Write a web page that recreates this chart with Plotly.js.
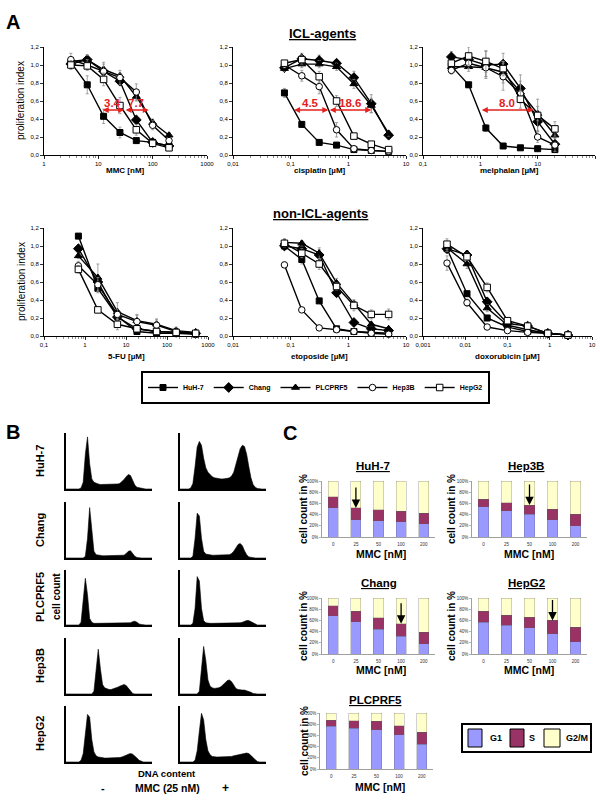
<!DOCTYPE html>
<html><head><meta charset="utf-8">
<script src="https://cdn.plot.ly/plotly-3.0.1.min.js"></script>
<style>html,body{margin:0;padding:0;background:#fff}#chart{width:600px;height:800px}</style>
</head><body><div id="chart"></div>
<script>
// ---------------- DATA ----------------
const cellLines = ['HuH-7', 'Chang', 'PLCPRF5', 'Hep3B', 'HepG2'];
const propTicks = [0, 0.2, 0.4, 0.6, 0.8, 1.0, 1.2];
const propTickText = ['0,0', '0,2', '0,4', '0,6', '0,8', '1,0', '1,2'];

// Panel A – ICL agents
const mmcDose = [3.125, 6.25, 12.5, 25, 50, 100, 200];
const mmcValues = [
  [1.03, 0.78, 0.43, 0.25, 0.16, 0.14, 0.10],
  [1.01, 1.06, 0.93, 0.82, 0.39, 0.14, 0.10],
  [1.04, 1.06, 0.95, 0.88, 0.65, 0.36, 0.22],
  [1.06, 1.00, 0.93, 0.86, 0.70, 0.33, 0.16],
  [1.00, 0.99, 0.84, 0.55, 0.28, 0.13, 0.08]];
const mmcError = [
  [0.05, 0.10, 0.08, 0.06, 0.03, 0.02, 0.02],
  [0.04, 0.05, 0.05, 0.03, 0.04, 0.02, 0.02],
  [0.03, 0.05, 0.06, 0.03, 0.05, 0.04, 0.03],
  [0.07, 0.06, 0.10, 0.08, 0.09, 0.05, 0.03],
  [0.05, 0.04, 0.07, 0.09, 0.06, 0.03, 0.02]];
const mmcTicks = [1, 10, 100, 1000];
const mmcTickText = ['1', '10', '100', '1000'];
const mmcIC50 = [11.3, 29.8, 84.7];
const mmcFold = ['3.4', '7.7'];

const cisDose = [0.078, 0.156, 0.3125, 0.625, 1.25, 2.5, 5];
const cisValues = [
  [0.69, 0.34, 0.14, 0.11, 0.06, 0.05, 0.04],
  [0.97, 1.07, 1.05, 1.02, 0.86, 0.57, 0.22],
  [0.96, 1.01, 1.01, 0.98, 0.79, 0.55, 0.24],
  [1.00, 0.88, 0.76, 0.28, 0.07, 0.05, 0.04],
  [1.02, 1.06, 0.87, 0.60, 0.21, 0.12, 0.06]];
const cisError = [
  [0.05, 0.03, 0.02, 0.02, 0.01, 0.01, 0.01],
  [0.03, 0.06, 0.06, 0.04, 0.07, 0.10, 0.04],
  [0.03, 0.04, 0.04, 0.04, 0.05, 0.08, 0.03],
  [0.03, 0.06, 0.08, 0.08, 0.03, 0.02, 0.01],
  [0.03, 0.05, 0.06, 0.06, 0.03, 0.02, 0.02]];
const cisTicks = [0.01, 0.1, 1, 10];
const cisTickText = ['0,01', '0,1', '1', '10'];
const cisIC50 = [0.108, 0.45, 2.5];
const cisFold = ['4.5', '18.6'];

const melDose = [0.3125, 0.625, 1.25, 2.5, 5, 10, 20];
const melValues = [
  [0.99, 0.78, 0.30, 0.10, 0.08, 0.07, 0.06],
  [1.09, 1.06, 1.00, 1.01, 0.74, 0.37, 0.12],
  [0.98, 0.98, 0.97, 0.92, 0.70, 0.46, 0.22],
  [0.94, 1.02, 0.97, 0.87, 0.68, 0.20, 0.11],
  [1.02, 1.10, 1.04, 0.96, 0.62, 0.44, 0.29]];
const melError = [
  [0.04, 0.03, 0.04, 0.02, 0.02, 0.01, 0.01],
  [0.06, 0.08, 0.15, 0.12, 0.15, 0.10, 0.08],
  [0.03, 0.05, 0.10, 0.12, 0.12, 0.08, 0.04],
  [0.04, 0.06, 0.10, 0.15, 0.10, 0.06, 0.03],
  [0.03, 0.10, 0.12, 0.08, 0.10, 0.18, 0.08]];
const melTicks = [0.1, 1, 10, 100];
const melTickText = ['0,1', '1', '10', '100'];
const melIC50 = [1.0, 8.5];
const melFold = ['8.0'];

// Panel A – non-ICL agents
const fuDose = [0.69, 2.06, 6.17, 18.5, 55.6, 167, 500];
const fuValues = [
  [1.11, 0.53, 0.22, 0.05, 0.03, 0.03, 0.02],
  [0.97, 0.60, 0.21, 0.08, 0.05, 0.04, 0.03],
  [0.89, 0.65, 0.27, 0.17, 0.13, 0.06, 0.04],
  [0.78, 0.57, 0.24, 0.16, 0.12, 0.05, 0.03],
  [0.74, 0.29, 0.13, 0.08, 0.05, 0.04, 0.03]];
const fuError = [
  [0.02, 0.05, 0.03, 0.02, 0.01, 0.01, 0.01],
  [0.03, 0.05, 0.04, 0.02, 0.02, 0.01, 0.01],
  [0.03, 0.15, 0.10, 0.06, 0.05, 0.04, 0.03],
  [0.05, 0.08, 0.06, 0.08, 0.07, 0.04, 0.03],
  [0.04, 0.02, 0.06, 0.03, 0.02, 0.02, 0.02]];
const fuTicks = [0.1, 1, 10, 100, 1000];
const fuTickText = ['0,1', '1', '10', '100', '1000'];

const etoDose = [0.078, 0.156, 0.3125, 0.625, 1.25, 2.5, 5];
const etoValues = [
  [1.00, 0.85, 0.39, 0.08, 0.05, 0.04, 0.03],
  [1.00, 0.97, 0.90, 0.48, 0.15, 0.08, 0.06],
  [1.04, 1.03, 0.92, 0.59, 0.36, 0.13, 0.08],
  [0.79, 0.29, 0.09, 0.07, 0.05, 0.03, 0.02],
  [1.03, 0.92, 0.80, 0.55, 0.34, 0.24, 0.24]];
const etoError = [
  [0.02, 0.05, 0.02, 0.01, 0.01, 0.01, 0.01],
  [0.03, 0.03, 0.06, 0.04, 0.02, 0.02, 0.01],
  [0.04, 0.03, 0.06, 0.05, 0.04, 0.02, 0.02],
  [0.03, 0.02, 0.01, 0.01, 0.01, 0.01, 0.01],
  [0.04, 0.05, 0.06, 0.04, 0.06, 0.05, 0.06]];
const etoTicks = [0.01, 0.1, 1, 10];
const etoTickText = ['0,01', '0,1', '1', '10'];

const doxDose = [0.0037, 0.011, 0.033, 0.1, 0.3, 0.9, 2.7];
const doxValues = [
  [0.97, 0.47, 0.20, 0.10, 0.05, 0.03, 0.01],
  [0.97, 0.90, 0.38, 0.14, 0.11, 0.03, 0.01],
  [0.98, 0.80, 0.31, 0.12, 0.07, 0.03, 0.01],
  [0.81, 0.37, 0.10, 0.06, 0.04, 0.03, 0.01],
  [1.02, 0.88, 0.54, 0.17, 0.11, 0.03, 0.01]];
const doxError = [
  [0.04, 0.03, 0.03, 0.02, 0.01, 0.01, 0.01],
  [0.05, 0.05, 0.04, 0.02, 0.02, 0.01, 0.01],
  [0.04, 0.05, 0.04, 0.02, 0.02, 0.01, 0.01],
  [0.08, 0.04, 0.02, 0.01, 0.01, 0.01, 0.01],
  [0.06, 0.04, 0.05, 0.02, 0.02, 0.01, 0.01]];
const doxTicks = [0.001, 0.01, 0.1, 1, 10];
const doxTickText = ['0,001', '0,01', '0,1', '1', '10'];

// Panel B – DNA content histograms (channel in % of scale, count relative)
const histChannel = [0, 2.5, 5, 7.5, 10, 12.5, 15, 17.5, 20, 22.5, 25, 27.5, 30, 32.5, 35, 37.5, 40, 42.5, 45, 47.5, 50,
  52.5, 55, 57.5, 60, 62.5, 65, 67.5, 70, 72.5, 75, 77.5, 80, 82.5, 85, 87.5, 90, 92.5, 95, 97.5, 100];
const histMinus = [
  [0,0,0,0,0,0,0,0.02,0.12,0.62,0.93,0.45,0.18,0.12,0.10,0.09,0.08,0.08,0.08,0.08,0.08,0.09,0.09,0.08,0.09,0.10,0.13,0.17,0.22,0.26,0.24,0.15,0.07,0.03,0.02,0.01,0,0,0,0,0],
  [0,0,0,0,0,0,0,0,0,0.03,0.35,0.90,0.50,0.12,0.06,0.05,0.04,0.04,0.04,0.04,0.04,0.04,0.04,0.04,0.04,0.04,0.04,0.05,0.08,0.12,0.13,0.08,0.03,0.01,0,0,0,0,0,0,0],
  [0,0,0,0,0,0,0,0.05,0.40,0.85,0.55,0.12,0.05,0.03,0.03,0.03,0.03,0.03,0.03,0.03,0.03,0.03,0.03,0.03,0.03,0.03,0.03,0.03,0.03,0.03,0.04,0.06,0.07,0.05,0.02,0.01,0,0,0,0,0],
  [0,0,0,0,0,0,0,0,0,0,0,0,0,0.05,0.40,0.80,0.45,0.17,0.11,0.09,0.08,0.08,0.09,0.10,0.12,0.14,0.16,0.17,0.15,0.10,0.04,0.01,0,0,0,0,0,0,0,0,0],
  [0,0,0,0,0,0,0,0.03,0.15,0.50,0.85,0.80,0.40,0.18,0.11,0.09,0.08,0.07,0.07,0.07,0.07,0.07,0.07,0.07,0.07,0.08,0.09,0.10,0.12,0.14,0.15,0.14,0.11,0.07,0.03,0.01,0,0,0,0,0]];
const histPlus = [
  [0,0,0,0,0,0.02,0.10,0.40,0.75,0.85,0.78,0.55,0.38,0.30,0.25,0.22,0.20,0.19,0.19,0.18,0.18,0.18,0.19,0.20,0.23,0.30,0.42,0.58,0.72,0.78,0.76,0.62,0.40,0.20,0.08,0.03,0.01,0,0,0,0],
  [0,0,0,0,0,0,0.03,0.35,0.80,0.75,0.35,0.12,0.07,0.06,0.05,0.05,0.05,0.05,0.05,0.05,0.05,0.05,0.05,0.06,0.08,0.12,0.18,0.24,0.26,0.22,0.13,0.06,0.02,0.01,0,0,0,0,0,0,0],
  [0,0,0,0,0,0,0.03,0.30,0.88,0.80,0.30,0.08,0.04,0.03,0.03,0.03,0.03,0.03,0.03,0.03,0.03,0.03,0.03,0.03,0.03,0.03,0.03,0.03,0.04,0.05,0.07,0.08,0.08,0.06,0.03,0.01,0,0,0,0,0],
  [0,0,0,0,0,0,0,0,0,0.05,0.40,0.85,0.60,0.25,0.14,0.11,0.10,0.10,0.11,0.13,0.16,0.20,0.24,0.25,0.22,0.15,0.10,0.08,0.07,0.07,0.07,0.06,0.05,0.03,0.01,0,0,0,0,0,0],
  [0,0,0,0,0,0,0,0.03,0.20,0.55,0.87,0.75,0.40,0.20,0.13,0.10,0.09,0.09,0.09,0.09,0.09,0.09,0.09,0.09,0.10,0.11,0.12,0.13,0.14,0.15,0.16,0.16,0.15,0.12,0.08,0.04,0.01,0,0,0,0]];

// Panel C – cell cycle distribution (%)
const cycleDose = ['0', '25', '50', '100', '200'];
const cycleTicks = [0, 20, 40, 60, 80, 100];
const cycleTickText = ['0%', '20%', '40%', '60%', '80%', '100%'];
const cycleLines = ['HuH-7', 'Hep3B', 'Chang', 'HepG2', 'PLCPRF5'];
const cycleG1 = [[52, 31, 29, 27, 24], [54, 47, 41, 31, 20], [68, 58, 44, 32, 18], [57, 51, 47, 36, 22], [76, 73, 70, 61, 44]];
const cycleS = [[20, 21, 20, 19, 18], [13, 14, 16, 19, 21], [18, 18, 21, 22, 21], [19, 18, 19, 24, 26], [11, 13, 15, 16, 22]];
const cycleG2M = [[28, 48, 51, 54, 58], [33, 39, 43, 50, 59], [14, 24, 35, 46, 61], [24, 31, 34, 40, 52], [13, 14, 15, 23, 34]];
const cycleArrowDose = ['25', '50', '100', '100', null];
const phaseNames = ['G1', 'S', 'G2/M'];

// ---------------- BUILD ----------------
const FONT = 'Liberation Sans, Arial, Helvetica, sans-serif';
const W = 600, H = 800;
const px = v => v / W, py = v => 1 - v / H;
const ak = (n, c) => c + 'axis' + (n === 1 ? '' : n);
const ar = (n, c) => c + (n === 1 ? '' : n);

const data = [];
const layout = {
  width: W, height: H, margin: {l: 0, r: 0, t: 0, b: 0, pad: 0, autoexpand: false},
  paper_bgcolor: '#fff', plot_bgcolor: 'rgba(0,0,0,0)',
  font: {family: FONT, color: '#000'}, hovermode: false,
  barmode: 'stack', bargap: 0.55,
  annotations: [], shapes: [], showlegend: true,
  legend: {x: px(141), y: py(371), xanchor: 'left', yanchor: 'top', orientation: 'h',
    bordercolor: '#000', borderwidth: 2, bgcolor: '#fff', font: {size: 7, family: FONT},
    itemwidth: 30, traceorder: 'normal', tracegroupgap: 0}
};
const ann = (text, x, y, size, extra) => layout.annotations.push(Object.assign({
  text, x: px(x), y: py(y), xref: 'paper', yref: 'paper', showarrow: false,
  xanchor: 'center', yanchor: 'middle', font: {size, family: FONT, color: '#000'}}, extra || {}));
const rect = (x0, y0, x1, y1, fill, lw) => layout.shapes.push({type: 'rect', xref: 'paper', yref: 'paper',
  x0: px(x0), x1: px(x1), y0: py(y1), y1: py(y0), fillcolor: fill, line: {color: '#000', width: lw}});

const markerStyles = [
  {symbol: 'square', color: '#000', size: 6},
  {symbol: 'diamond', color: '#000', size: 7.5},
  {symbol: 'triangle-up', color: '#000', size: 7},
  {symbol: 'circle', color: '#fff', size: 6.5},
  {symbol: 'square', color: '#fff', size: 6.5}];

const panelsA = [
  {dose: mmcDose, vals: mmcValues, err: mmcError, ticks: mmcTicks, txt: mmcTickText, range: [0, 3], xd: [44, 207], yd: [47, 155], title: 'MMC [nM]', ic: mmcIC50, fold: mmcFold},
  {dose: cisDose, vals: cisValues, err: cisError, ticks: cisTicks, txt: cisTickText, range: [-2, 1], xd: [233, 406], yd: [47, 155], title: 'cisplatin [µM]', ic: cisIC50, fold: cisFold},
  {dose: melDose, vals: melValues, err: melError, ticks: melTicks, txt: melTickText, range: [-1, 2], xd: [423, 595], yd: [47, 155], title: 'melphalan [µM]', ic: melIC50, fold: melFold},
  {dose: fuDose, vals: fuValues, err: fuError, ticks: fuTicks, txt: fuTickText, range: [-1, 3], xd: [44, 208], yd: [228, 336], title: '5-FU [µM]'},
  {dose: etoDose, vals: etoValues, err: etoError, ticks: etoTicks, txt: etoTickText, range: [-2, 1], xd: [233, 406], yd: [228, 336], title: 'etoposide [µM]'},
  {dose: doxDose, vals: doxValues, err: doxError, ticks: doxTicks, txt: doxTickText, range: [-3, 1], xd: [423, 592], yd: [228, 336], title: 'doxorubicin [µM]'}];

panelsA.forEach((p, i) => {
  const n = i + 1;
  layout[ak(n, 'x')] = {domain: [px(p.xd[0]), px(p.xd[1])], anchor: ar(n, 'y'), type: 'log', range: p.range,
    tickmode: 'array', tickvals: p.ticks, ticktext: p.txt, ticks: 'outside', ticklen: 3, tickwidth: 0.8, tickcolor: '#000',
    showline: true, linecolor: '#000', linewidth: 1, showgrid: false, zeroline: false, tickfont: {size: 6, family: FONT},
    minor: {ticks: 'outside', ticklen: 1.5, tickwidth: 0.6, tickcolor: '#444', dtick: 'D1', showgrid: false}};
  layout[ak(n, 'y')] = {domain: [py(p.yd[1]), py(p.yd[0])], anchor: ar(n, 'x'), range: [0, 1.2],
    tickmode: 'array', tickvals: propTicks, ticktext: propTickText, ticks: 'outside', ticklen: 3, tickwidth: 0.8, tickcolor: '#000',
    showline: true, linecolor: '#000', linewidth: 1, showgrid: false, zeroline: false, tickfont: {size: 6, family: FONT}};
  cellLines.forEach((name, s) => {
    const st = markerStyles[s];
    data.push({type: 'scatter', mode: 'lines+markers', x: p.dose, y: p.vals[s],
      xaxis: ar(n, 'x'), yaxis: ar(n, 'y'), name: '<b>' + name + '</b>', legend: 'legend',
      showlegend: i === 0, cliponaxis: false,
      error_y: {type: 'data', array: p.err[s], visible: true, color: '#8c8c8c', thickness: 0.8, width: 1.5},
      line: {color: '#000', width: 1.4},
      marker: {symbol: st.symbol, size: st.size, color: st.color, line: {color: '#000', width: 1}}});
  });
  ann('<b>' + p.title + '</b>', (p.xd[0] + p.xd[1]) / 2, p.yd[1] + (i < 3 ? 15 : 20), 8);
  if (p.ic) {
    for (let k = 0; k < p.fold.length; k++) {
      const a0 = Math.log10(p.ic[k]), b = Math.log10(p.ic[k + 1]);
      layout.annotations.push({xref: ar(n, 'x'), yref: ar(n, 'y'), axref: ar(n, 'x'), ayref: ar(n, 'y'),
        x: b, y: 0.5, ax: a0, ay: 0.5, text: '', showarrow: true, arrowhead: 2, arrowside: 'end+start',
        arrowsize: 0.8, arrowwidth: 1.5, arrowcolor: '#e3221f', standoff: 0, startstandoff: 0});
      layout.annotations.push({xref: ar(n, 'x'), yref: ar(n, 'y'), x: (a0 + b) / 2, y: 0.575,
        text: '<b>' + p.fold[k] + '</b>', showarrow: false, font: {size: 11.5, color: '#e3221f', family: FONT}});
    }
  }
});
ann('proliferation index', 21, 101, 10, {textangle: -90});
ann('proliferation index', 21, 282, 10, {textangle: -90});
ann('<b>A</b>', 13, 22, 20);
ann('<b><u>ICL-agents</u></b>', 322, 33, 13);
ann('<b><u>non-ICL-agents</u></b>', 320, 213, 13);

// Panel B
const histRows = [[433, 489], [502, 558], [570, 625], [638, 694], [706, 762]];
const histCols = [[66, 152], [180, 266]];
let n = 7;
[histMinus, histPlus].forEach((set, c) => {
  set.forEach((vals, r) => {
    layout[ak(n, 'x')] = {domain: [px(histCols[c][0]), px(histCols[c][1])], anchor: ar(n, 'y'), range: [0, 100],
      showline: true, linecolor: '#000', linewidth: 2, showticklabels: false, ticks: '', showgrid: false, zeroline: false};
    layout[ak(n, 'y')] = {domain: [py(histRows[r][1]), py(histRows[r][0])], anchor: ar(n, 'x'), range: [0, 1],
      showline: true, linecolor: '#000', linewidth: 2, showticklabels: false, ticks: '', showgrid: false, zeroline: false};
    data.push({type: 'scatter', mode: 'lines', x: histChannel, y: vals, xaxis: ar(n, 'x'), yaxis: ar(n, 'y'),
      fill: 'tozeroy', fillcolor: '#000', line: {color: '#000', width: 0.6}, showlegend: false});
    n++;
  });
});
ann('<b>B</b>', 13, 432, 20);
ann('<b>HuH-7</b>', 40, 461, 11, {textangle: -90});
ann('<b>Chang</b>', 40, 530, 11, {textangle: -90});
ann('<b>PLCPRF5</b>', 40, 597, 11, {textangle: -90});
ann('<b>cell count</b>', 56, 597, 10, {textangle: -90});
ann('<b>Hep3B</b>', 40, 666, 11, {textangle: -90});
ann('<b>HepG2</b>', 40, 734, 11, {textangle: -90});
ann('<b>DNA content</b>', 167, 773, 9.5);
ann('<b>-</b>', 103, 788, 11);
ann('<b>MMC (25 nM)</b>', 167, 788, 10.5);
ann('<b>+</b>', 225, 788, 12);

// Panel C
const cycleBoxes = [
  {xd: [322, 435], yd: [481, 537], title: [373, 466], xt: [381, 554], yt: 303},
  {xd: [472, 587], yd: [481, 537], title: [526, 466], xt: [529, 554], yt: 451},
  {xd: [322, 435], yd: [598, 654], title: [379, 583], xt: [381, 670], yt: 303},
  {xd: [472, 587], yd: [598, 654], title: [526, 583], xt: [529, 670], yt: 451},
  {xd: [320, 433], yd: [713, 769], title: [375, 700], xt: [380, 787], yt: 304}];
const phaseColors = ['#9999ff', '#993366', '#ffffcc'];
cycleBoxes.forEach((b, i) => {
  const m = 17 + i;
  layout[ak(m, 'x')] = {domain: [px(b.xd[0]), px(b.xd[1])], anchor: ar(m, 'y'), type: 'category',
    showline: true, linecolor: '#888', linewidth: 0.8, ticks: 'outside', ticklen: 3, tickcolor: 'rgba(0,0,0,0)',
    tickfont: {size: 4.5, family: FONT, color: '#333'}, showgrid: false, zeroline: false};
  layout[ak(m, 'y')] = {domain: [py(b.yd[1]), py(b.yd[0])], anchor: ar(m, 'x'), range: [0, 100],
    tickmode: 'array', tickvals: cycleTicks, ticktext: cycleTickText, ticks: 'outside', ticklen: 2, tickwidth: 0.6,
    tickcolor: '#888', showline: true, linecolor: '#888', linewidth: 0.8, showgrid: false, zeroline: false,
    tickfont: {size: 4.5, family: FONT, color: '#333'}};
  [cycleG1[i], cycleS[i], cycleG2M[i]].forEach((vals, k) => {
    data.push({type: 'bar', x: cycleDose, y: vals, xaxis: ar(m, 'x'), yaxis: ar(m, 'y'),
      name: phaseNames[k], showlegend: false,
      marker: {color: phaseColors[k], line: {color: 'rgba(90,90,90,0.55)', width: 0.5}}});
  });
  const ad = cycleArrowDose[i];
  if (ad !== null) {
    const j = cycleDose.indexOf(ad);
    layout.annotations.push({xref: ar(m, 'x'), yref: ar(m, 'y'), x: j, y: cycleG1[i][j] + cycleS[i][j],
      ax: 0, ay: -22, text: '', showarrow: true, arrowhead: 2, arrowsize: 1.3, arrowwidth: 1.3,
      arrowcolor: '#000', standoff: 0});
  }
  ann('<b><u>' + cycleLines[i] + '</u></b>', b.title[0], b.title[1], 11.5);
  ann('<b>MMC [nM]</b>', b.xt[0], b.xt[1], 10.5);
  ann('<b>cell count in %</b>', b.yt, (b.yd[0] + b.yd[1]) / 2, 10, {textangle: -90});
});
ann('<b>C</b>', 290, 433, 20);

// Phase key (legend box for panel C)
rect(462, 724, 591, 752, '#fff', 2);
const keySwatch = [[468, 482], [510, 524], [544, 560]];
const keyText = [496, 532, 577];
phaseNames.forEach((nm, k) => {
  rect(keySwatch[k][0], 729, keySwatch[k][1], 747, phaseColors[k], 1);
  ann('<b>' + nm + '</b>', keyText[k], 738, 9);
});

Plotly.newPlot('chart', data, layout, {staticPlot: true, displayModeBar: false});
</script>
</body></html>
